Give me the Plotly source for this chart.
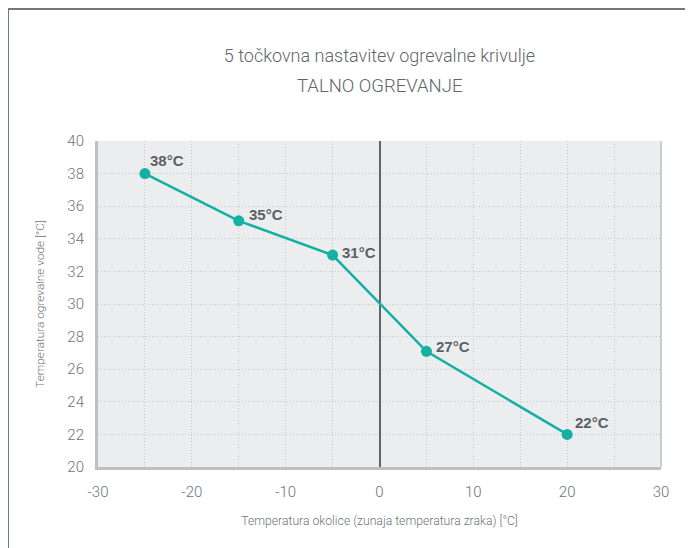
import plotly.graph_objects as go

outdoor_temp = [-25, -15, -5, 5, 20]
water_temp = [38, 35.1, 33, 27.1, 22]
point_labels = ["38°C", "35°C", "31°C", "27°C", "22°C"]
x_ticks = [-30, -20, -10, 0, 10, 20, 30]
x_tick_text = ["-30", "-20", "-10", "0", "10", "20", "30"]
y_ticks = [20, 22, 24, 26, 28, 30, 32, 34, 36, 38, 40]

# label offsets in pixels (style only)
label_dx = [3, 8, 7, 8, 6]
label_dy = [13, 6, 3, 5, 12]

FONT = "Roboto, Arial, sans-serif"
TXT = "#6b757a"
TEAL = "#14b0a2"
GRID = "#c4c8cb"

# page body has an 8px margin, figure starts at (8, 8)
W, H = 685, 540
L, R, T, B = 90, 32, 133, 81
pw, ph = W - L - R, H - T - B

fig = go.Figure()
fig.add_trace(go.Scatter(
    x=outdoor_temp, y=water_temp, mode="lines+markers",
    line=dict(color=TEAL, width=2.5),
    marker=dict(color=TEAL, size=11),
    showlegend=False, cliponaxis=False,
))

for xv, yv, lab, dx, dy in zip(outdoor_temp, water_temp, point_labels, label_dx, label_dy):
    fig.add_annotation(
        x=xv, y=yv, text=lab, showarrow=False, xanchor="left", yanchor="middle",
        xshift=dx, yshift=dy,
        font=dict(family="Liberation Sans, Arial, sans-serif", size=15, color="#596266", weight="bold"),
    )

fig.update_layout(
    width=W, height=H,
    margin=dict(l=L, r=R, t=T, b=B),
    paper_bgcolor="white", plot_bgcolor="#ebedee",
    font=dict(family=FONT, color=TXT, size=15, weight=300),
    title=dict(
        text="5 točkovna nastavitev ogrevalne krivulje",
        x=(L + pw / 2) / W, xanchor="center", y=1 - 48 / H, yanchor="middle",
        font=dict(family=FONT, size=18, color="#5d676c", weight=300),
    ),
    xaxis=dict(
        range=[-30, 30], tickvals=x_ticks, ticktext=x_tick_text, ticklabelstandoff=9,
        tickfont=dict(size=15, weight=300),
        showgrid=True, gridcolor=GRID, griddash="1px,2px", gridwidth=1,
        minor=dict(dtick=5, showgrid=True, gridcolor=GRID, griddash="1px,2px", gridwidth=1),
        zeroline=True, zerolinecolor="#5f666a", zerolinewidth=2,
        showline=True, linecolor="#bcc0c3", linewidth=3,
        title=dict(text="Temperatura okolice (zunaja temperatura zraka) [°C]", standoff=17,
                   font=dict(size=12.2, color=TXT, weight=300)),
        fixedrange=True,
    ),
    yaxis=dict(
        range=[20, 40], tickvals=y_ticks, ticklabelstandoff=8,
        tickfont=dict(size=15, weight=300),
        showgrid=True, gridcolor=GRID, griddash="1px,2px", gridwidth=1,
        zeroline=False,
        showline=True, linecolor="#bcc0c3", linewidth=3,
        title=dict(text="Temperatura ogrevalne vode [°C]", standoff=21,
                   font=dict(size=11.8, color=TXT, weight=300)),
        fixedrange=True,
    ),
)

fig.add_annotation(
    text="TALNO OGREVANJE", xref="paper", yref="paper", showarrow=False,
    x=0.5, y=(H - B - 78) / ph, xanchor="center", yanchor="middle",
    font=dict(family=FONT, size=18.5, color="#5d676c", weight=300),
)

# right border of plot area
fig.add_shape(type="line", xref="paper", yref="paper", x0=1, x1=1, y0=0, y1=1,
              line=dict(color="#c9cdd0", width=2))
# outer frame (top and left)
fx = (0 - L) / pw
fy = (H - B - 1) / ph
fig.add_shape(type="line", xref="paper", yref="paper", x0=fx, x1=(W + 5 - L) / pw, y0=fy, y1=fy,
              line=dict(color="#6f787c", width=2))
fig.add_shape(type="line", xref="paper", yref="paper", x0=fx, x1=fx, y0=fy, y1=-0.5,
              line=dict(color="#6f787c", width=2))

fig.write_html("out.html")
